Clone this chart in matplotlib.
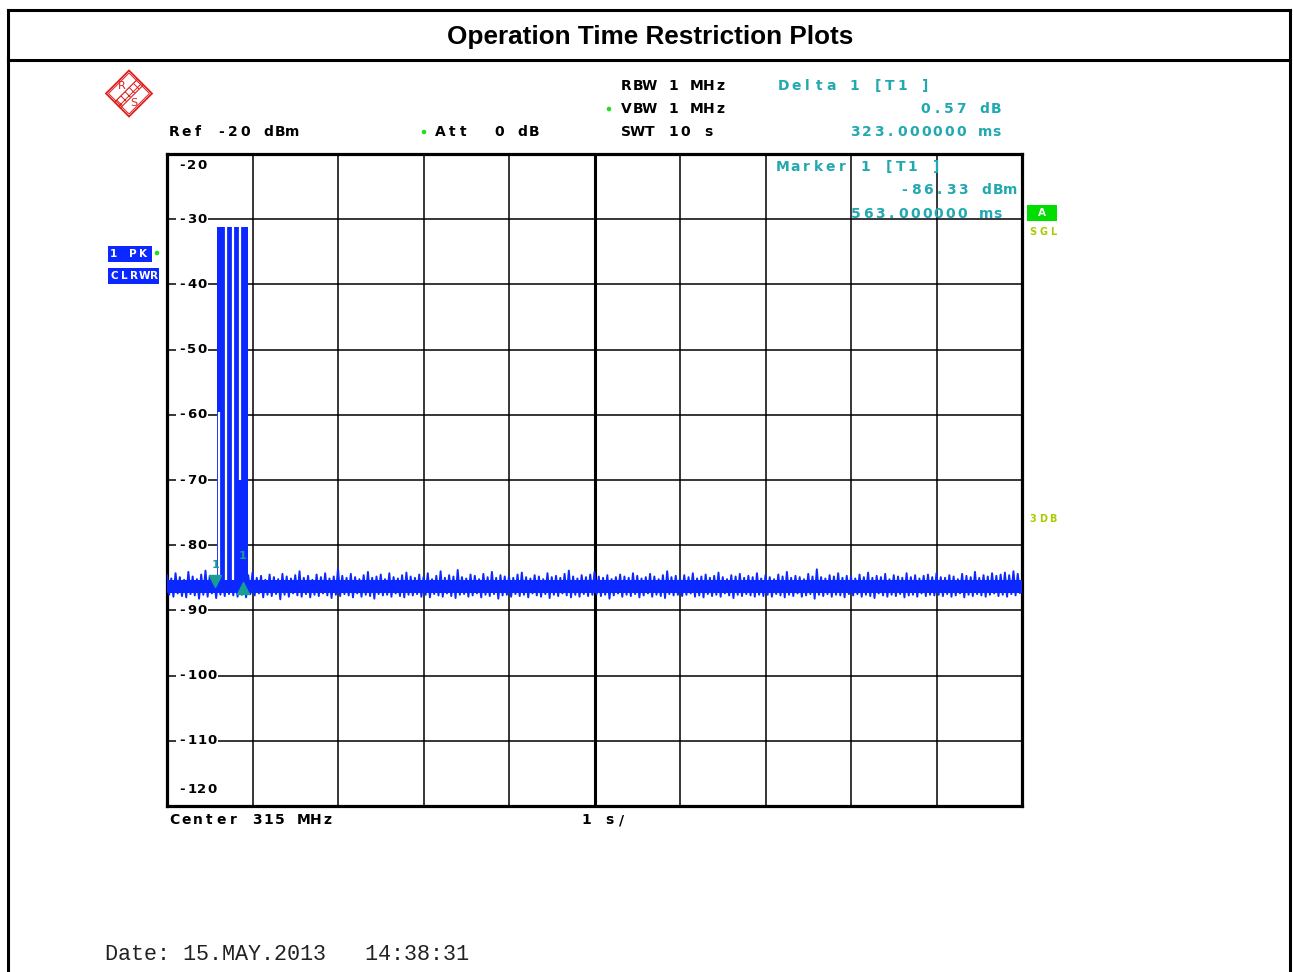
import numpy as np
import matplotlib
matplotlib.use('Agg')
import matplotlib.pyplot as plt
import matplotlib.transforms as mtransforms
from matplotlib.patches import Rectangle, Polygon, Circle
from matplotlib.lines import Line2D

W, H = 1293, 972

# sweep settings (time domain, 1 s/div)
t_span = 10.0
ref_level = -20
y_bottom = -120
y_grid = list(range(-120, -19, 10))
y_labels = ['-20', '-30', '-40', '-50', '-60', '-70', '-80', '-90', '-100', '-110', '-120']

# peak trace of the noise floor, one hi/lo pair every 50 ms (dBm)
noise_hi = [
    -84.6, -85.1, -84.3, -84.9, -85.3, -84.1, -84.8, -85.2, -84.5, -83.9, -84.7, -85.0, -85.2, -85.0, -84.8, -85.1, -84.9, -85.3, -84.2, -84.6,
    -84.2, -85.0, -84.7, -85.3, -84.5, -84.9, -85.2, -84.4, -84.8, -85.1, -84.6, -84.0, -85.0, -84.7, -85.3, -84.5, -84.9, -84.3, -85.1, -84.8,
    -83.6, -84.7, -85.0, -84.4, -84.9, -85.2, -84.6, -84.1, -85.0, -84.8, -84.5, -85.2, -84.3, -84.9, -85.1, -84.6, -84.2, -84.8, -85.0, -84.5,
    -84.9, -84.3, -85.2, -84.7, -84.0, -85.0, -84.6, -84.8, -83.8, -84.9, -85.1, -84.5, -84.7, -85.2, -84.4, -84.9, -84.1, -85.0, -84.6, -84.8,
    -84.7, -85.0, -84.5, -84.2, -84.9, -85.1, -84.6, -84.8, -85.2, -84.3, -84.9, -84.7, -85.0, -84.4, -83.9, -84.8, -85.1, -84.6, -84.9, -84.5,
    -84.1, -84.8, -85.0, -84.6, -85.2, -84.9, -84.5, -84.8, -85.0, -84.3, -84.7, -85.1, -84.9, -84.4, -84.8, -85.2, -84.6, -84.0, -84.9, -84.7,
    -85.0, -84.6, -84.9, -84.3, -85.1, -84.8, -84.5, -85.0, -84.7, -84.2, -84.9, -85.2, -84.6, -84.8, -84.4, -85.0, -84.7, -84.9, -84.3, -85.1,
    -84.6, -84.9, -85.2, -84.5, -84.8, -84.1, -85.0, -84.7, -84.9, -85.2, -84.4, -84.8, -83.7, -84.9, -85.1, -84.6, -84.8, -84.3, -85.0, -84.7,
    -84.8, -85.1, -84.5, -84.9, -84.2, -85.0, -84.7, -84.9, -84.4, -85.2, -84.6, -84.8, -85.0, -84.3, -84.9, -84.6, -85.1, -84.7, -84.5, -84.9,
    -84.3, -84.9, -85.0, -84.6, -84.8, -85.2, -84.4, -84.7, -84.9, -84.1, -85.0, -84.6, -84.8, -84.3, -84.7, -84.5, -84.2, -84.6, -84.0, -84.4,
]
noise_lo = [
    -87.6, -87.9, -87.4, -87.8, -88.0, -87.5, -87.7, -88.2, -87.6, -87.9, -87.4, -88.1, -87.6, -87.8, -87.5, -87.7, -87.9, -87.6, -88.0, -87.5,
    -87.7, -87.4, -88.0, -87.6, -87.8, -87.5, -88.3, -87.6, -87.9, -87.4, -87.7, -87.9, -87.5, -88.0, -87.6, -87.8, -87.4, -87.7, -88.1, -87.6,
    -87.8, -87.5, -87.7, -88.0, -87.4, -87.9, -87.6, -87.8, -88.2, -87.5, -87.7, -87.6, -87.9, -87.4, -87.8, -88.0, -87.6, -87.7, -87.5, -87.9,
    -87.6, -88.0, -87.5, -87.7, -87.9, -87.4, -87.8, -88.1, -87.6, -87.5, -87.9, -87.7, -87.4, -88.0, -87.6, -87.8, -87.5, -88.2, -87.7, -87.6,
    -87.9, -87.5, -87.8, -87.6, -88.0, -87.4, -87.7, -87.9, -87.5, -88.1, -87.6, -87.8, -87.4, -87.7, -88.0, -87.6, -87.9, -87.5, -87.8, -87.6,
    -87.5, -87.8, -87.6, -88.2, -87.7, -87.4, -87.9, -87.6, -87.8, -87.5, -88.0, -87.7, -87.4, -87.9, -87.6, -87.8, -88.1, -87.5, -87.7, -87.6,
    -87.8, -87.6, -87.4, -87.9, -87.7, -88.0, -87.5, -87.8, -87.6, -87.9, -87.4, -87.7, -88.1, -87.6, -87.8, -87.5, -87.7, -87.9, -87.6, -87.8,
    -87.6, -87.9, -87.5, -87.7, -88.0, -87.6, -87.8, -87.4, -87.9, -87.7, -87.5, -88.2, -87.6, -87.8, -87.5, -87.9, -87.6, -87.7, -88.0, -87.5,
    -87.7, -87.5, -87.9, -87.6, -87.8, -88.1, -87.4, -87.7, -87.9, -87.6, -87.8, -87.5, -88.0, -87.7, -87.6, -87.9, -87.4, -87.8, -87.6, -87.7,
    -87.6, -87.8, -87.5, -87.9, -87.7, -87.4, -88.0, -87.6, -87.8, -87.5, -87.7, -87.9, -87.6, -87.4, -87.8, -87.6, -87.9, -87.5, -87.7, -87.3,
]
noise_core = (-85.4, -87.3)
noise_step = 0.05

# transmission burst (s, dBm) and the short dropouts inside it
burst_on, burst_off, burst_top = 0.579, 0.942, -31.2
gap_t = [0.611, 0.692, 0.774, 0.852]
gap_top = [-59.6, -31.2, -31.2, -31.2]
gap_bottom = [-85.4, -85.4, -85.4, -70.0]

# markers
m1_time, m1_level = 0.563, -86.33
d1_time, d1_level = 0.323, 0.57

trace_blue = '#0a28ff'
teal = '#22a8b0'
mk_teal = '#1a9d92'
lime = '#22dd22'
ygreen = '#a8cc00'

fig = plt.figure(figsize=(W / 100, H / 100), dpi=100)
PX = mtransforms.Affine2D().scale(1, -1).translate(0, H)


def mono(x, y, s, pitch=11.8, size=10, color='black', z=3):
    # one glyph per fixed-width cell, like the analyzer's screen font
    for i, ch in enumerate(s):
        if ch != ' ':
            fig.text(x + (i + 0.5) * pitch, y, ch, transform=PX, ha='center', va='center',
                     fontsize=size, color=color, fontweight='bold',
                     family='DejaVu Sans', zorder=z)


# outer table frame and title row
for xs, ys in [((8, 1290), (10, 10)), ((8, 1290), (60, 60)), ((8, 8), (10, 975)), ((1290, 1290), (10, 975))]:
    fig.add_artist(Line2D(xs, ys, transform=PX, color='black', lw=2.2))
fig.text(650, 37, 'Operation Time Restriction Plots', transform=PX, ha='center', va='center',
         fontsize=18.8, fontweight='bold', family='Liberation Sans')

# plot area
ax = fig.add_axes([167 / W, (H - 806) / H, 855 / W, 652 / H])
ax.set_xlim(0, t_span)
ax.set_ylim(y_bottom, ref_level)
ax.set_xticks(np.arange(0, 11, 1))
ax.set_yticks(y_grid)
ax.grid(True, color='black', lw=1.1)
ax.set_axisbelow(True)
ax.tick_params(length=0, labelleft=False, labelbottom=False)
for sp in ax.spines.values():
    sp.set_linewidth(2.3)
ax.axvline(5, color='black', lw=2.2, zorder=1)

# noise floor: solid core plus the peak/valley zig-zag
t_noise = np.arange(len(noise_hi)) * noise_step
ax.fill_between([0, t_span], noise_core[0], noise_core[1], color=trace_blue, lw=0, zorder=3)
zt = np.empty(2 * len(t_noise))
zv = np.empty(2 * len(t_noise))
zt[0::2] = t_noise
zt[1::2] = t_noise + noise_step / 2
zv[0::2] = noise_hi
zv[1::2] = noise_lo
ax.plot(zt, zv, color=trace_blue, lw=1.4, zorder=3)

# burst
ax.fill_between([burst_on, burst_off], noise_core[0], burst_top, color=trace_blue, lw=0, zorder=3)
ax.vlines(gap_t, gap_bottom, gap_top, color='white', lw=1.6, zorder=4)

# marker 1 and delta marker
d_time = m1_time + d1_time
d_level = m1_level + d1_level
ax.plot([m1_time], [m1_level], marker='v', ms=8, color=mk_teal, ls='none', zorder=6,
        transform=mtransforms.offset_copy(ax.transData, fig=fig, x=0, y=5, units='dots'))
ax.plot([d_time], [d_level], marker='^', ms=8, color=mk_teal, ls='none', zorder=6,
        transform=mtransforms.offset_copy(ax.transData, fig=fig, x=0, y=-5, units='dots'))
ax.text(m1_time, m1_level, '1', color=mk_teal, fontsize=8, fontweight='bold', ha='center', va='center', zorder=6,
        transform=mtransforms.offset_copy(ax.transData, fig=fig, x=0, y=21, units='dots'))
ax.text(d_time, d_level, '1', color=mk_teal, fontsize=8, fontweight='bold', ha='center', va='center', zorder=6,
        transform=mtransforms.offset_copy(ax.transData, fig=fig, x=0, y=27, units='dots'))

# level labels inside the left edge of the grid
fig.canvas.draw()
for v, lab in zip(y_grid[::-1], y_labels):
    yp = H - ax.transData.transform((0, v))[1]
    if v == ref_level:
        yp += 12
    elif v == y_bottom:
        yp -= 17
    else:
        fig.add_artist(Rectangle((176, yp - 7), len(lab) * 10 + 2, 14, transform=PX,
                                 facecolor='white', edgecolor='none', zorder=2.5))
    mono(177, yp, lab, pitch=10, size=9.5)

# header settings
mono(168, 132, 'Ref -20 dBm')
fig.add_artist(Circle((424, 132), 1.6, transform=PX, color=lime))
mono(434, 132, 'Att  0 dB')
mono(620, 86, 'RBW 1 MHz')
fig.add_artist(Circle((609, 109), 1.6, transform=PX, color=lime))
mono(620, 109, 'VBW 1 MHz')
mono(620, 132, 'SWT 10 s')

# marker readouts
mono(778, 86, 'Delta 1 [T1 ]', color=teal)
mono(1002 - 7 * 11.8, 109, f'{d1_level:.2f} dB', color=teal)
mono(849, 132, f'{d1_time * 1000:.6f} ms', color=teal)
mono(777, 167, 'Marker 1 [T1 ]', color=teal)
mono(1016 - 10 * 11.8, 190, f'{m1_level:.2f} dBm', color=teal)
mono(850, 214, f'{m1_time * 1000:.6f} ms', color=teal)

# trace / status boxes
fig.add_artist(Rectangle((108, 246), 44, 16, transform=PX, facecolor=trace_blue, edgecolor='none'))
mono(108, 254, '1 PK', pitch=10, size=7.5, color='white')
fig.add_artist(Rectangle((108, 268), 51, 16, transform=PX, facecolor=trace_blue, edgecolor='none'))
mono(109, 276, 'CLRWR', pitch=10, size=7.5, color='white')
fig.add_artist(Circle((157, 253), 1.6, transform=PX, color=lime))
fig.add_artist(Rectangle((1027, 205), 30, 16, transform=PX, facecolor='#00dd00', edgecolor='none'))
mono(1037, 213, 'A', pitch=10, size=7.5, color='white')
mono(1028, 232, 'SGL', pitch=10, size=7, color=ygreen)
mono(1028, 519, '3DB', pitch=10, size=7, color=ygreen)

# footer
mono(168, 820, 'Center 315 MHz')
mono(580, 820, '1 s/')
fig.text(105, 954, 'Date: 15.MAY.2013   14:38:31', transform=PX, va='center', ha='left',
         fontsize=15.7, family='Liberation Mono', color='#222222')

# R&S logo
plt.rcParams['hatch.linewidth'] = 0.7
cx, cy = 129, 93.5
for hs, lw in [(23, 1.3), (20.5, 0.7)]:
    fig.add_artist(Polygon([(cx, cy - hs), (cx + hs, cy), (cx, cy + hs), (cx - hs, cy)], closed=True,
                           transform=PX, facecolor='none', edgecolor='#dd2222', lw=lw))
o = 2.9
fig.add_artist(Polygon([(140.5 - o, 82 - o), (140.5 + o, 82 + o), (117.5 + o, 105 + o), (117.5 - o, 105 - o)],
                       closed=True, transform=PX, facecolor='none', edgecolor='#dd2222', lw=0.8, hatch='xxxx'))
fig.text(121.5, 86, 'R', transform=PX, ha='center', va='center', fontsize=8, color='#dd2222')
fig.text(134, 103, 'S', transform=PX, ha='center', va='center', fontsize=8, color='#dd2222')

fig.savefig('out.png', dpi=100)
